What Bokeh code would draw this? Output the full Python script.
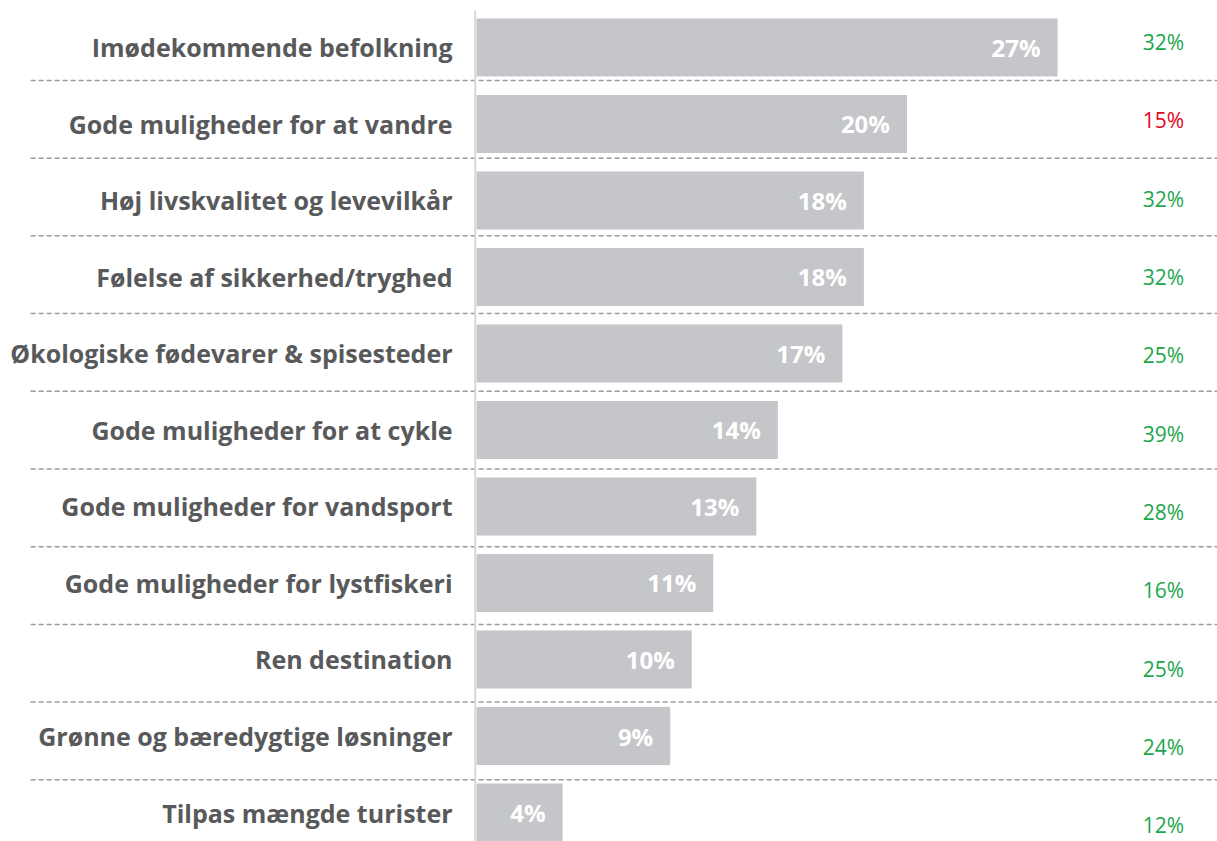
from bokeh.plotting import figure
from bokeh.models import Range1d, ColumnDataSource
from bokeh.core.properties import value
from bokeh.embed import file_html
from bokeh.resources import INLINE

categories = [
    "Imødekommende befolkning",
    "Gode muligheder for at vandre",
    "Høj livskvalitet og levevilkår",
    "Følelse af sikkerhed/tryghed",
    "Økologiske fødevarer & spisesteder",
    "Gode muligheder for at cykle",
    "Gode muligheder for vandsport",
    "Gode muligheder for lystfiskeri",
    "Ren destination",
    "Grønne og bæredygtige løsninger",
    "Tilpas mængde turister",
]
values = [27, 20, 18, 18, 17, 14, 13, 11, 10, 9, 4]
compare_values = [32, 15, 32, 32, 25, 39, 28, 16, 25, 24, 12]

FONT = "Open Sans"
GREEN = "#1ca64b"
RED = "#e3051b"

n = len(categories)
rows = list(range(n))

p = figure(width=1217, height=841, output_backend="svg", toolbar_location=None,
           x_range=Range1d(-22.12, 34.43), y_range=Range1d(10.379, -0.614),
           min_border=0, outline_line_color=None, background_fill_color="white",
           border_fill_color="white")
p.xaxis.visible = False
p.yaxis.visible = False
p.grid.visible = False

# dashed separators
sep_y = [k + 0.431 + 0.0157 * k for k in range(n - 1)]
p.segment(x0=[-20.72] * len(sep_y), x1=[35] * len(sep_y), y0=sep_y, y1=sep_y,
          line_color="#9a9a9a", line_width=1.5, line_dash="5 3")

# bars
src = ColumnDataSource(dict(y=rows, v=values, cat=categories,
                            lab=[f"{v}%" for v in values]))
p.hbar(y="y", left=0, right="v", height=0.76, source=src,
       fill_color="#c5c6c9", line_color=None)

# vertical axis line
p.segment(x0=[-0.06], x1=[-0.06], y0=[-0.484], y1=[10.6],
          line_color="#d8d8d8", line_width=2)

# category labels
p.text(x=0, y="y", text="cat", source=src, x_offset=-24, text_align="right",
       text_baseline="middle", text_font=value(FONT), text_font_style="bold",
       text_font_size="25px", text_color="#58595b")

# values inside bars
p.text(x="v", y="y", text="lab", source=src, x_offset=-17, text_align="right",
       text_baseline="middle", text_font=value(FONT), text_font_style="bold",
       text_font_size="24px", text_color="white")

# comparison values on right
cmp_src = ColumnDataSource(dict(
    y=[-0.07 + 1.0235 * i for i in rows],
    lab=[f"{c}%" for c in compare_values],
    col=[GREEN if c >= v else RED for c, v in zip(compare_values, values)],
))
p.text(x=31.92, y="y", text="lab", source=cmp_src, text_align="center",
       text_baseline="middle", text_font=value(FONT), text_font_size="21px",
       text_color="col")

open("out.html", "w").write(file_html(p, INLINE))
